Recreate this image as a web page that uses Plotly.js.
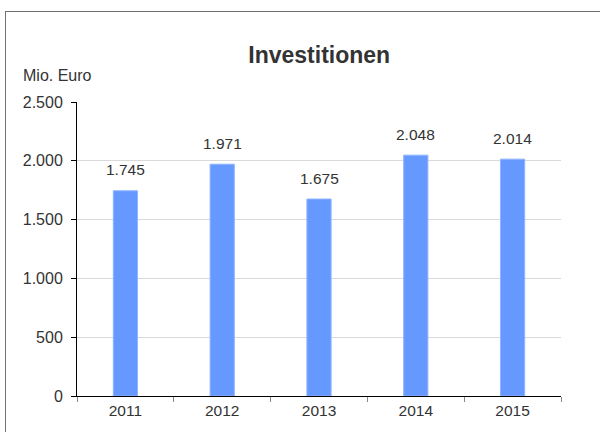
<!DOCTYPE html>
<html><head><meta charset="utf-8">
<script src="https://cdn.plot.ly/plotly-3.0.1.min.js"></script>
<style>
html,body{margin:0;padding:0;background:#fff;}
#wrap{position:relative;width:600px;height:432px;overflow:hidden;}
#chart{position:absolute;left:0;top:0;width:600px;height:432px;}
#frame{position:absolute;left:5px;top:11px;width:640px;height:460px;border:1.5px solid #707070;pointer-events:none;}
</style></head>
<body>
<div id="wrap"><div id="chart"></div><div id="frame"></div></div>
<script>
const years = ['2011','2012','2013','2014','2015'];
const investments = [1745, 1971, 1675, 2048, 2014];
const yTicks = [0, 500, 1000, 1500, 2000, 2500];

const fmt = v => v.toLocaleString('de-DE');
const FONT = 'Liberation Sans, Arial, sans-serif';

const trace = {
  type: 'bar', x: years, y: investments,
  marker: {color: '#6699FF', line: {color: '#8fb3ff', width: 1}},
  hoverinfo: 'none'
};

const annotations = years.map((yr, i) => ({
  x: i, y: investments[i], text: fmt(investments[i]),
  showarrow: false, yanchor: 'middle', yshift: 21,
  font: {family: FONT, size: 15.5, color: '#333'}
}));
annotations.push({
  xref: 'paper', yref: 'paper', x: -0.116, y: 1.09, xanchor: 'left', yanchor: 'middle',
  text: 'Mio. Euro', showarrow: false,
  font: {family: FONT, size: 16, color: '#333'}
});

const layout = {
  width: 600, height: 432,
  margin: {l: 77, r: 39, t: 102, b: 36},
  paper_bgcolor: 'rgba(0,0,0,0)', plot_bgcolor: '#fff',
  separators: ',.',
  showlegend: false,
  bargap: 0.75,
  title: {text: '<b>Investitionen</b>', x: 0.532, xanchor: 'center', y: 0.872, yanchor: 'middle',
    font: {family: FONT, size: 23, color: '#333'}},
  font: {family: FONT, size: 15.5, color: '#333'},
  xaxis: {type: 'category', range: [-0.5, 4.5], showline: true, linecolor: '#000', linewidth: 1,
    ticks: 'outside', tickson: 'boundaries', ticklen: 5, tickcolor: '#888',
    showgrid: false, fixedrange: true, tickangle: 0, tickfont: {size: 15.5}},
  yaxis: {range: [0, 2500], tickvals: yTicks, ticktext: yTicks.map(fmt),
    showline: true, linecolor: '#000', linewidth: 1,
    ticks: 'outside', ticklen: 5, tickcolor: '#000', ticklabelstandoff: 5,
    showgrid: true, gridcolor: '#d9d9d9', gridwidth: 1, zeroline: false, fixedrange: true,
    tickfont: {size: 16}},
  annotations: annotations
};

Plotly.newPlot('chart', [trace], layout, {displayModeBar: false, staticPlot: true});
</script>
</body></html>
